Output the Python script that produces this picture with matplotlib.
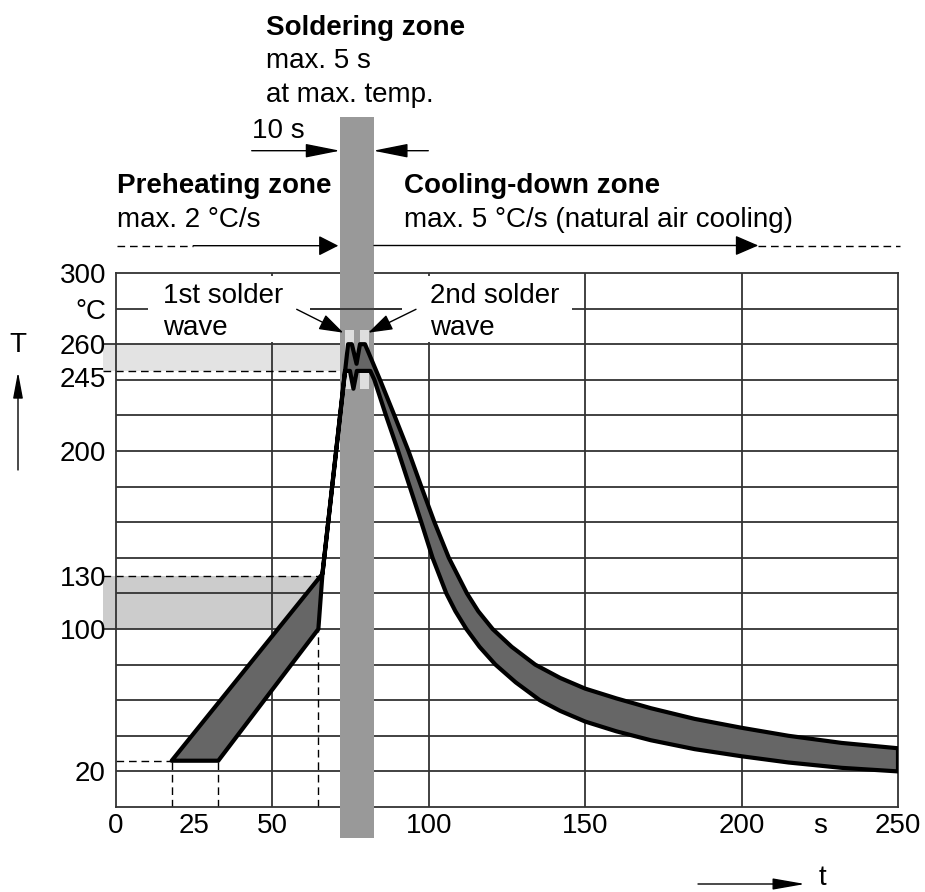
import matplotlib
matplotlib.use('Agg')
import matplotlib.pyplot as plt
from matplotlib.patches import Rectangle, FancyArrowPatch, Polygon
from matplotlib.ticker import FixedLocator
import matplotlib.transforms as mtransforms

# ---------------- data ----------------
# outer (upper / hotter) boundary of the profile band, left to right
upper_t = [17.8, 66.0, 74.2, 75.4, 76.9, 78.0, 79.6, 84.4, 89.0, 93.5, 97.6, 101.8,
           106.4, 112.2, 115.8, 120.4, 126.5, 134.0, 142.0, 150.0, 160.0, 171.0, 185.0,
           200.0, 215.0, 232.0, 250.0]
upper_T = [26, 131, 260, 260, 249, 260, 260, 240, 220, 200, 180, 160,
           140, 120, 110, 100, 90, 80, 72.5, 66.5, 61, 55.5, 49.5,
           44.5, 40, 36, 33]
# inner (lower / cooler) boundary, left to right
lower_t = [32.7, 64.7, 66.0, 73.2, 74.8, 75.9, 77.0, 81.3, 82.6, 86.3, 90.2, 93.9,
           97.6, 101.2, 105.6, 108.5, 112.0, 116.2, 121.3, 127.8, 135.5, 142.0, 150.0,
           160.0, 171.0, 185.0, 200.0, 215.0, 232.0, 250.0]
lower_T = [26, 100, 131, 245, 245, 235, 245, 245, 240, 220, 200, 180,
           160, 140, 120, 110, 100, 90, 80, 70, 60, 54, 48,
           42.5, 37.5, 32.5, 28.5, 25, 22, 20]

# soldering zone (time window, s) and solder-wave windows
solder_zone = (71.6, 82.5)
wave1 = (73.2, 76.1)
wave2 = (78.0, 80.9)
wave_T = (235, 268)
# temperature bands
peak_band = (245, 260)
preheat_band = (100, 130)
preheat_start_T = 26
preheat_start_t = [17.8, 32.7]
preheat_end_t = 64.7

# axes ticks
ytick_T = [300, 280, 260, 245, 200, 130, 100, 20]
ytick_labels = ['300', '°C', '260', '245', '200', '130', '100', '20']
xtick_t = [0, 25, 50, 100, 150, 200, 225, 250]
xtick_labels = ['0', '25', '50', '100', '150', '200', 's', '250']
grid_T = [20, 40, 60, 80, 100, 120, 140, 160, 180, 200, 220, 240, 260, 280]
grid_t = [50, 100, 150, 200]

# ---------------- figure ----------------
W, H = 925, 892
plt.rcParams['font.family'] = ['Liberation Sans', 'DejaVu Sans']
FS = 20
fig = plt.figure(figsize=(W / 100, H / 100), dpi=100)
ax = fig.add_axes([116 / W, 1 - 807 / H, (898 - 116) / W, (807 - 273) / H])
ax.set_xlim(0, 250)
ax.set_ylim(0, 300)

GC = '#333333'
for s in ax.spines.values():
    s.set_color(GC)
    s.set_linewidth(1.3)
    s.set_zorder(2.5)

# grid
ax.hlines(grid_T, 0, 250, color=GC, lw=1.3, zorder=1)
ax.vlines(grid_t, 0, 300, color=GC, lw=1.3, zorder=1)

# bands (extend a little left of the axis)
xl = -4.2
ax.add_patch(Rectangle((xl, peak_band[0]), solder_zone[0] - xl, peak_band[1] - peak_band[0],
                       facecolor='#e3e3e3', edgecolor='none', zorder=0.5, clip_on=False))
ax.add_patch(Rectangle((xl, preheat_band[0]), 65.0 - xl, preheat_band[1] - preheat_band[0],
                       facecolor='#cccccc', edgecolor='none', zorder=0.5, clip_on=False))
# tick extensions
ax.hlines([260, 100], xl, 0, color=GC, lw=1.3, zorder=1, clip_on=False)

dash = (0, (5.5, 3.5))
ax.plot([xl, solder_zone[0]], [peak_band[0]] * 2, color='black', lw=1.0, ls=dash, zorder=1.2, clip_on=False)
ax.plot([xl, 65.5], [preheat_band[1]] * 2, color='black', lw=1.0, ls=dash, zorder=1.2, clip_on=False)
ax.plot([0, preheat_start_t[0]], [preheat_start_T] * 2, color='black', lw=1.0, ls=dash, zorder=1.2)
for tt in preheat_start_t:
    ax.plot([tt, tt], [0, preheat_start_T], color='black', lw=1.0, ls=dash, zorder=1.2)
ax.plot([preheat_end_t, preheat_end_t], [0, preheat_band[0]], color='black', lw=1.0, ls=dash, zorder=1.2)

# white label boxes covering the grid
ax.add_patch(Rectangle((10.2, 261), 51.8, 37.5, facecolor='white', edgecolor='none', zorder=2))
ax.add_patch(Rectangle((91.3, 261), 54.4, 37.5, facecolor='white', edgecolor='none', zorder=2))

# soldering zone bar
ax.add_patch(Rectangle((solder_zone[0], -17.4), solder_zone[1] - solder_zone[0], 387.8 + 17.4,
                       facecolor='#999999', edgecolor='none', zorder=3, clip_on=False))
ax.hlines(280, 62, 91.3, color=GC, lw=1.3, zorder=3.2)
for w in (wave1, wave2):
    ax.add_patch(Rectangle((w[0], wave_T[0]), w[1] - w[0], wave_T[1] - wave_T[0],
                           facecolor='#dedede', edgecolor='none', zorder=3.3))

# profile band
pts = list(zip(upper_t, upper_T)) + list(zip(lower_t[::-1], lower_T[::-1]))
ax.add_patch(Polygon(pts, closed=True, facecolor='#666666', edgecolor='black', lw=3.0,
                     joinstyle='round', zorder=5))

# ticks
ax.set_yticks(ytick_T, ytick_labels, fontsize=FS)
ax.set_xticks(xtick_t, xtick_labels, fontsize=FS)
ax.tick_params(axis='y', length=0, pad=7.2)
ax.tick_params(axis='x', length=0, pad=4)
ax.xaxis.set_minor_locator(FixedLocator([25]))
ax.tick_params(axis='x', which='minor', direction='in', length=5.8, width=1.3, color=GC)
for lab in ax.get_yticklabels():
    if lab.get_text() == '245':
        lab.set_transform(lab.get_transform() +
                          mtransforms.ScaledTranslation(0, -6 / 100, fig.dpi_scale_trans))


# ---------------- annotations (figure pixel helpers) ----------------
def F(px, py):
    return (px / W, 1 - py / H)


def txt(px, py, s, bold=False, **kw):
    x, y = F(px, py)
    fig.text(x, y, s, fontsize=FS, fontweight='bold' if bold else 'normal',
             va='baseline', ha=kw.pop('ha', 'left'), zorder=10, **kw)


def arrow(p0, p1, hl, hw, lw=1.0):
    a = FancyArrowPatch(F(*p0), F(*p1), transform=fig.transFigure,
                        arrowstyle=f'-|>,head_length={hl},head_width={hw}',
                        mutation_scale=10, lw=lw, color='black', shrinkA=0, shrinkB=0,
                        zorder=10)
    fig.add_artist(a)


def line(p0, p1, ls='-', lw=1.0):
    x0, y0 = F(*p0)
    x1, y1 = F(*p1)
    fig.add_artist(plt.Line2D([x0, x1], [y0, y1], transform=fig.transFigure,
                              color='black', lw=lw, ls=ls, zorder=10))


txt(265.7, 35, 'Soldering zone', bold=True)
txt(265.7, 68.3, 'max. 5 s')
txt(265.7, 101.7, 'at max. temp.')
txt(251.7, 138.3, '10 s')
txt(116.7, 193.3, 'Preheating zone', bold=True)
txt(116.7, 226.7, 'max. 2 °C/s')
txt(404, 193.3, 'Cooling-down zone', bold=True)
txt(404, 226.7, 'max. 5 °C/s (natural air cooling)')
txt(163.3, 303.3, '1st solder')
txt(163.3, 335, 'wave')
txt(430, 303.3, '2nd solder')
txt(430, 335, 'wave')

# 10 s arrows
arrow((251.7, 150.7), (340, 150.7), 2.16, 0.43)
arrow((428.3, 150.7), (373.3, 150.7), 2.16, 0.43)
# preheating arrow
line((116.7, 245.7), (193.3, 245.7), ls=dash)
arrow((193.3, 245.7), (338.3, 245.7), 1.22, 0.62)
# cooling arrow
arrow((374, 245.5), (758.3, 245.5), 1.44, 0.62)
line((758.3, 245.5), (900, 245.5), ls=dash)
# solder wave arrows
arrow((296.7, 309.3), (343.3, 332.7), 1.5, 0.5)
arrow((416, 309.3), (368.3, 332.7), 1.5, 0.5)
# axis arrows
arrow((18, 470), (18, 372), 1.6, 0.3)
x, y = F(18, 345)
fig.text(x, y, 'T', fontsize=FS, ha='center', va='center')
arrow((698, 884), (805, 884), 2.0, 0.35)
x, y = F(822, 878)
fig.text(x, y, 't', fontsize=FS, ha='center', va='center')

fig.savefig('out.png', dpi=100)
